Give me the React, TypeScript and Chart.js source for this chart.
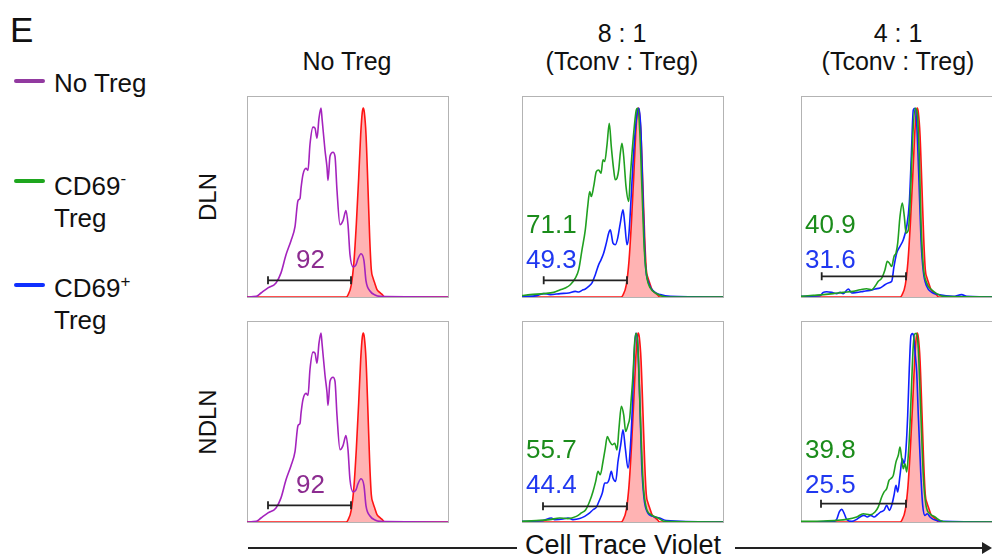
import React, { useEffect, useRef } from 'react';
import { Chart, registerables } from 'chart.js';
Chart.register(...registerables);

type Pt = [number, number];

// x: channel position across a plot (0..201), y: % of plot height (0..100)
const X_MAX = 201;
const Y_MAX = 100;

const COLUMNS_TOP = ['', '8 : 1', '4 : 1'];
const COLUMNS = ['No Treg', '(Tconv : Treg)', '(Tconv : Treg)'];
const ROWS = ['DLN', 'NDLN'];
const LEGEND = ['No Treg', 'CD69', 'CD69'];
const AXIS_LABEL = 'Cell Trace Violet';

// No Treg (purple)
const NO_TREG_DLN: Pt[] = [[0,0],[9.3,0.3],[14,2],[21,4.5],[29,7],[34,12],[39,21],[44,28],[48,35],[51,48],[53,49],[54,54],[56,61],[59,64],[61,63],[63,76],[66,84.5],[68,84],[70,79],[72,89],[74,94],[75,89],[78,73],[80,64.5],[81,58],[83,70],[86,72],[88,70],[90,53],[93,36],[96,38],[99,43],[101,36],[103,21],[106,15],[109,16],[111,19],[114,21.5],[117,18],[119,8],[123,3],[128,1],[133,0.3],[201,0]];
const NO_TREG_NDLN: Pt[] = [[0,0],[9.3,0.3],[14,2],[21,4.5],[29,7],[34,12],[39,21],[44,28],[48,35],[51,48],[53,49],[54,54],[56,61],[59,64],[61,63],[63,76],[66,84.5],[68,84],[70,79],[72,89],[74,94],[75,89],[78,73],[80,64.5],[81,58],[83,70],[86,72],[88,70],[90,53],[93,36],[96,38],[99,43],[101,36],[103,21],[106,15],[109,16],[111,19],[114,21.5],[117,18],[119,8],[123,3],[128,1],[133,0.3],[201,0]];

// Undivided control (red, filled)
const UNDIVIDED: Pt[] = [[0,0],[99,0],[101,1],[104.3,6],[107,18],[109.3,36],[111.7,59.5],[113.7,81],[115.3,92],[116.3,94],[117.3,92],[119,81],[121,54],[122.7,29.5],[124.3,13.7],[126,9.5],[127.7,7],[130,3.7],[132.7,2.3],[135.3,1.2],[137.7,0],[201,0]];

// DLN 8:1
const DLN_8_CD69N: Pt[] = [[0,0.7],[8.3,1.2],[21.7,1.7],[31.7,2.3],[38.3,3.6],[43.3,4.5],[48.3,6.1],[53.3,9.4],[56.7,13.6],[60,23.5],[63.3,33.4],[65.7,45],[67.7,52.5],[69.3,50],[71.7,55],[74.3,62.4],[76.7,63.2],[79,61.6],[81,68.2],[82.7,67.4],[85,75.7],[87.3,86.4],[89.3,74.8],[91.7,63.2],[93.3,58.3],[95,59.1],[96.7,63.2],[98.3,71.5],[100,76.5],[101.7,69.9],[104,55],[106.7,47.5],[108.3,59.9],[110,71.5],[112.3,84.8],[114.3,93],[115.7,93.9],[117.7,83.1],[120,53.3],[122.3,23.5],[125,9.4],[128.3,4.5],[133.3,2],[138.3,0.7],[145,0],[201,0]];
const DLN_8_CD69P: Pt[] = [[0,0.3],[15,0.7],[21.7,1.7],[28.3,1.2],[38.3,1.7],[46.7,2],[53.3,2.8],[56.7,2.5],[60,3.3],[63.3,4],[66.7,5.3],[70,7],[73.3,11.1],[76.7,16.1],[79,18.5],[81.7,21.9],[84.3,26.8],[86.7,31.8],[88.3,33.4],[91,26.8],[93.3,26],[95.7,29.3],[98.3,36.8],[101,43.4],[102.7,36.8],[105,26],[107,31.8],[109,48.3],[111,66.6],[113.3,83.1],[115.7,93],[117,93.9],[119,81.8],[121,48.3],[123.3,16.9],[126.7,7],[131.7,2.8],[138.3,1.2],[148.3,0.3],[201,0]];

// DLN 4:1
const DLN_4_CD69N: Pt[] = [[0,0.3],[12.3,0.8],[22.3,1.2],[32.3,1.7],[42.3,2.3],[52.3,2.8],[59,3.6],[65.7,4.1],[70.7,3.6],[74,5.3],[77.3,7.8],[80.7,9.4],[84,13.6],[86.3,17.7],[88.3,16.9],[90.7,15.2],[93,20.2],[95,21.9],[96.7,26.8],[99,40.1],[101.3,46.7],[103.3,40.1],[105,31.8],[107.3,33.4],[109,45],[110.7,66.6],[112.3,84.8],[114.3,93.9],[116.3,91.4],[118.3,69.9],[120,36.8],[122.3,15.2],[125.7,7],[130.7,3.6],[135.7,1.7],[142.3,0.3],[201,0]];
const DLN_4_CD69P: Pt[] = [[0,0.3],[19,0.7],[22.3,2.3],[25.7,2.6],[30.7,2.3],[35.7,1.7],[39,2.3],[42.3,1.7],[47.3,4],[50.7,2],[55.7,2.3],[62.3,2.8],[69,3.3],[74,4],[79,4.5],[84,6.1],[87.3,7],[90.7,7.8],[93,15.2],[95.7,21.9],[99,25.2],[102.3,28.5],[105.7,35.1],[108.3,46.7],[110.3,69.9],[112.3,93],[114,93.9],[115.7,86.4],[117.7,61.6],[120,28.5],[122.3,12.7],[125.7,5.3],[130.7,2.3],[137.3,1.2],[152.3,0.3],[160.7,1.2],[165.7,0.3],[201,0]];

// NDLN 8:1
const NDLN_8_CD69N: Pt[] = [[0,0.3],[14.3,0.7],[27.7,1.2],[37.7,2],[46,1.7],[54.3,2.8],[59.3,4.5],[63.7,6.1],[67.7,10.3],[71,15.2],[73.7,20.2],[76,25.2],[78.3,23.5],[81,30.1],[83.3,36.8],[85.3,42.5],[87.7,40.1],[90.3,38.4],[92.7,39.2],[95,35.9],[97,46.7],[99.3,57.5],[101.7,53.3],[103.7,45],[106,48.3],[107.7,51.7],[109.3,61.6],[111,73.2],[112.7,89.7],[114.3,93.9],[116,86.4],[118.3,53.3],[121,20.2],[124.3,7],[129.3,3.6],[136,2],[142.7,0.3],[201,0]];
const NDLN_8_CD69P: Pt[] = [[0,0.3],[21,0.7],[29.3,2],[32.7,1.2],[41,1.5],[46,2],[51,1.2],[57.7,1.7],[62.7,2.8],[67.7,4.5],[71,6.1],[74.3,7.3],[77,10.3],[80.3,14.4],[82.7,19.4],[85,19.4],[87,21],[89.3,25.2],[91,21.9],[93.7,20.2],[96,30.1],[98.7,38.4],[101,45.9],[103.3,36.8],[106,26.8],[108.3,36.8],[110.3,56.6],[112,81.5],[113.7,93.9],[115.3,91.4],[117.7,61.6],[119.7,28.5],[122,11.9],[125,5.3],[131,2.8],[137.7,2],[144.3,0.7],[201,0]];

// NDLN 4:1
const NDLN_4_CD69N: Pt[] = [[0,0.3],[22.3,0.5],[35.7,0.8],[45.7,1.3],[55.7,2.5],[62.3,4.1],[69,3.6],[74,5],[77.3,7.5],[80.7,12.4],[83,14.9],[85.7,16.6],[88,20.7],[90,21.6],[92.3,23.2],[95,29.9],[97.3,33.2],[99,37.3],[100.7,31.5],[102.3,26.5],[104,29],[105.7,24.9],[107.3,33.2],[109,48.1],[110.7,69.7],[112.3,87.9],[114,93.7],[115.7,93.7],[117.3,86.2],[119.7,56.4],[122.3,23.2],[125,8.3],[129,4.1],[134,2.5],[139,0.8],[145.7,0],[201,0]];
const NDLN_4_CD69P: Pt[] = [[0,0],[32.3,0.3],[35.7,1.3],[38.3,5],[40.7,6.3],[43.3,4.1],[45.7,1.3],[50.7,0.3],[55.7,1.3],[59,2.5],[63,3.3],[66.3,2.5],[69.7,3.3],[73,2.5],[76.3,3.6],[79.7,5],[83,5.8],[85.7,8.3],[88.3,5.8],[90.7,8.3],[93,13.3],[95,18.2],[96.7,14.9],[99,23.2],[101.3,31.5],[103.3,29],[105,36.5],[106.7,53.1],[108.3,76.3],[110,92.9],[111.7,93.7],[113,91.2],[114.3,82.9],[115.7,74.6],[117.3,53.1],[119.7,24.9],[121.7,8.3],[124,3.3],[126.3,4.1],[129,2.5],[132.3,1.3],[142.3,0.3],[201,0]];

// Division gate per panel (DLN none, DLN 8:1, DLN 4:1, NDLN none, NDLN 8:1, NDLN 4:1)
const GATE_LO = [21, 21.7, 20.7, 21, 21, 20];
const GATE_HI = [104, 105, 105, 104, 105, 105];
const GATE_Y = [8.3, 8.3, 10.3, 8.3, 7.8, 9.1];

// % divided
const PCT_NO_TREG = ['92', '92'];
const PCT_CD69N = ['71.1', '40.9', '55.7', '39.8'];
const PCT_CD69P = ['49.3', '31.6', '44.4', '25.5'];

const FONT = "'Liberation Sans', Arial, Helvetica, sans-serif";
const C_PURPLE = '#a423bd';
const C_GREEN = '#20a020';
const C_BLUE = '#1020ff';
const C_RED = '#ff1414';
const C_FILL = '#ffb3b3';

type Series = { pts: Pt[]; color: string; fill?: string };

function Panel({ left, top, series, gate }: { left: number; top: number; series: Series[]; gate: number }) {
  const ref = useRef<HTMLCanvasElement | null>(null);
  useEffect(() => {
    const pad = 4;
    const framePlugin = {
      id: 'frame',
      beforeDatasetsDraw(chart: any) {
        const { ctx, chartArea: a } = chart;
        ctx.save();
        ctx.strokeStyle = '#b3b3b3';
        ctx.lineWidth = 1;
        ctx.strokeRect(a.left + 0.5, a.top + 0.5, a.right - a.left, a.bottom - a.top);
        ctx.restore();
      },
    };
    const gatePlugin = {
      id: 'gate',
      afterDatasetsDraw(chart: any) {
        const { ctx, scales } = chart;
        const x0 = scales.x.getPixelForValue(GATE_LO[gate]);
        const x1 = scales.x.getPixelForValue(GATE_HI[gate]);
        const y = scales.y.getPixelForValue(GATE_Y[gate]);
        ctx.save();
        ctx.strokeStyle = '#222';
        ctx.lineWidth = 1.8;
        ctx.beginPath();
        ctx.moveTo(x0, y);
        ctx.lineTo(x1, y);
        ctx.moveTo(x0, y - 4);
        ctx.lineTo(x0, y + 4);
        ctx.moveTo(x1, y - 4);
        ctx.lineTo(x1, y + 4);
        ctx.stroke();
        ctx.restore();
      },
    };
    const chart = new Chart(ref.current as HTMLCanvasElement, {
      type: 'line',
      data: {
        datasets: series.map((s) => ({
          data: s.pts.map(([x, y]) => ({ x, y })),
          borderColor: s.color,
          borderWidth: 1.6,
          pointRadius: 0,
          fill: s.fill ? 'origin' : false,
          backgroundColor: s.fill || 'transparent',
          cubicInterpolationMode: 'monotone',
        })) as any,
      },
      options: {
        responsive: false,
        animation: false,
        layout: { padding: pad },
        scales: {
          x: { type: 'linear', min: 0, max: X_MAX, display: false },
          y: { type: 'linear', min: 0, max: Y_MAX, display: false },
        },
        plugins: { legend: { display: false }, tooltip: { enabled: false } },
      },
      plugins: [framePlugin, gatePlugin],
    });
    return () => chart.destroy();
  }, []);
  return (
    <canvas
      ref={ref}
      width={209}
      height={209}
      style={{ position: 'absolute', left: left - 4, top: top - 4, display: 'block' }}
    />
  );
}

function T({ x, base, size, color = '#111', align = 'left', children }: any) {
  const style: React.CSSProperties = {
    position: 'absolute',
    top: base - 0.8465 * size,
    left: x,
    fontFamily: FONT,
    fontSize: size,
    lineHeight: `${size}px`,
    color,
    whiteSpace: 'nowrap',
    transform: align === 'center' ? 'translateX(-50%)' : undefined,
  };
  return <div style={style}>{children}</div>;
}

export default function App() {
  const PX = [247, 522, 801];
  const PY = [96, 321];
  const colCenters = [347, 622, 898];

  const panels = [
    { l: PX[0], t: PY[0], s: [{ pts: NO_TREG_DLN, color: C_PURPLE }, { pts: UNDIVIDED, color: C_RED, fill: C_FILL }], g: 0 },
    { l: PX[1], t: PY[0], s: [{ pts: DLN_8_CD69N, color: C_GREEN }, { pts: DLN_8_CD69P, color: C_BLUE }, { pts: UNDIVIDED, color: C_RED, fill: C_FILL }], g: 1 },
    { l: PX[2], t: PY[0], s: [{ pts: DLN_4_CD69N, color: C_GREEN }, { pts: DLN_4_CD69P, color: C_BLUE }, { pts: UNDIVIDED, color: C_RED, fill: C_FILL }], g: 2 },
    { l: PX[0], t: PY[1], s: [{ pts: NO_TREG_NDLN, color: C_PURPLE }, { pts: UNDIVIDED, color: C_RED, fill: C_FILL }], g: 3 },
    { l: PX[1], t: PY[1], s: [{ pts: NDLN_8_CD69N, color: C_GREEN }, { pts: NDLN_8_CD69P, color: C_BLUE }, { pts: UNDIVIDED, color: C_RED, fill: C_FILL }], g: 4 },
    { l: PX[2], t: PY[1], s: [{ pts: NDLN_4_CD69N, color: C_GREEN }, { pts: NDLN_4_CD69P, color: C_BLUE }, { pts: UNDIVIDED, color: C_RED, fill: C_FILL }], g: 5 },
  ];

  return (
    <div style={{ position: 'absolute', left: 0, top: 0, width: 992, height: 559, overflow: 'hidden', background: '#fff' }}>
      {panels.map((p, i) => (
        <Panel key={i} left={p.l} top={p.t} series={p.s} gate={p.g} />
      ))}

      {/* panel letter */}
      <T x={10} base={42} size={35}>E</T>

      {/* legend */}
      <div style={{ position: 'absolute', left: 14, top: 79, width: 31, height: 4, borderRadius: 2, background: '#923aa0' }} />
      <T x={54} base={92} size={26}>{LEGEND[0]}</T>
      <div style={{ position: 'absolute', left: 14, top: 179, width: 31, height: 4, borderRadius: 2, background: '#1ea61e' }} />
      <T x={54} base={195} size={26}>
        {LEGEND[1]}
        <span style={{ fontSize: 17, position: 'relative', top: -11 }}>-</span>
      </T>
      <T x={54} base={227} size={26}>Treg</T>
      <div style={{ position: 'absolute', left: 14, top: 283, width: 31, height: 4, borderRadius: 2, background: '#1030ff' }} />
      <T x={54} base={297} size={26}>
        {LEGEND[2]}
        <span style={{ fontSize: 17, position: 'relative', top: -10 }}>+</span>
      </T>
      <T x={54} base={329} size={26}>Treg</T>

      {/* column headers */}
      {COLUMNS_TOP.map((c, i) => (c ? <T key={'ct' + i} x={colCenters[i]} base={42} size={25} align="center">{c}</T> : null))}
      {COLUMNS.map((c, i) => (
        <T key={'c' + i} x={colCenters[i]} base={70} size={25} align="center">{c}</T>
      ))}

      {/* row labels */}
      {ROWS.map((r, i) => (
        <div
          key={'r' + i}
          style={{
            position: 'absolute',
            left: 208,
            top: PY[i] + 100.5,
            fontFamily: FONT,
            fontSize: 24,
            lineHeight: '24px',
            color: '#111',
            whiteSpace: 'nowrap',
            transform: 'translate(-50%, -50%) rotate(-90deg)',
          }}
        >
          {r}
        </div>
      ))}

      {/* percentages */}
      {PCT_NO_TREG.map((v, i) => (
        <T key={'n' + i} x={PX[0] + 49} base={PY[i] + 172} size={26} color="#8c2c90">{v}</T>
      ))}
      {PCT_CD69N.map((v, i) => (
        <T key={'g' + i} x={PX[1 + (i % 2)] + 4} base={PY[Math.floor(i / 2)] + 137} size={26} color="#1b8c1b">{v}</T>
      ))}
      {PCT_CD69P.map((v, i) => (
        <T key={'b' + i} x={PX[1 + (i % 2)] + 4} base={PY[Math.floor(i / 2)] + 172} size={26} color="#2038f0">{v}</T>
      ))}

      {/* x axis arrow */}
      <div style={{ position: 'absolute', left: 248, top: 547, width: 269, height: 2, background: '#222' }} />
      <T x={525} base={555} size={27}>{AXIS_LABEL}</T>
      <div style={{ position: 'absolute', left: 735, top: 547, width: 250, height: 2, background: '#222' }} />
      <div
        style={{
          position: 'absolute',
          left: 982,
          top: 542,
          width: 0,
          height: 0,
          borderTop: '6px solid transparent',
          borderBottom: '6px solid transparent',
          borderLeft: '10px solid #222',
        }}
      />
    </div>
  );
}
